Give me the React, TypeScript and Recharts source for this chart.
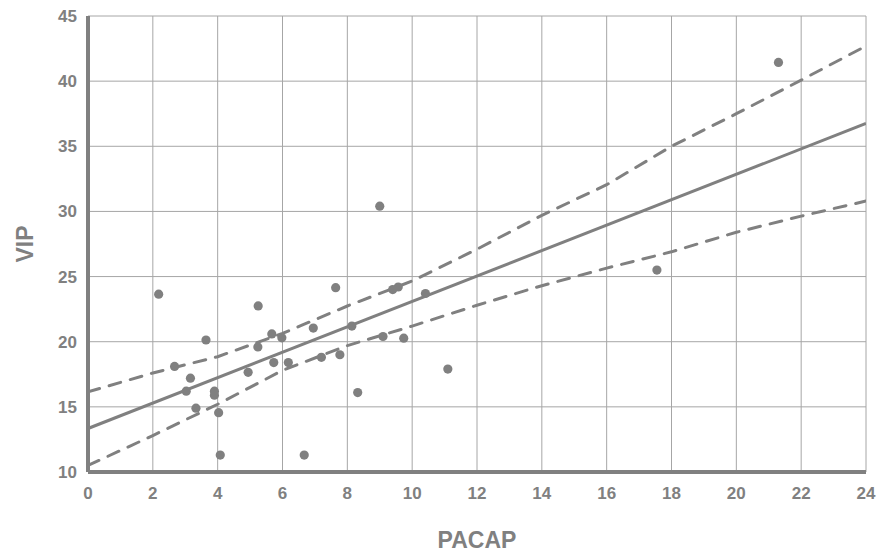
import React from 'react';
import { ScatterChart, Scatter, XAxis, YAxis, CartesianGrid } from 'recharts';

const pacap = [2.18, 5.25, 5.67, 3.64, 5.24, 5.73, 2.67, 3.16, 4.94, 3.03, 3.9, 3.9, 3.33, 4.03, 4.08, 9.0, 7.64, 5.98, 6.95, 8.14, 9.4, 9.57, 10.41, 9.1, 9.74, 6.18, 7.2, 7.77, 8.32, 11.1, 6.67, 21.3, 17.55];
const vip = [23.65, 22.75, 20.6, 20.13, 19.6, 18.4, 18.1, 17.2, 17.65, 16.2, 16.2, 15.9, 14.9, 14.55, 11.3, 30.4, 24.15, 20.3, 21.05, 21.2, 24.0, 24.2, 23.7, 20.4, 20.27, 18.4, 18.8, 19.0, 16.1, 17.9, 11.3, 41.44, 25.5];

const fitX = [0, 24];
const fitY = [13.34, 36.75];

const ciX = [0, 2, 4, 6, 8, 10, 12, 14, 16, 18, 20, 22, 24];
const ciUpper = [16.15, 17.6, 18.85, 20.64, 22.74, 24.66, 27.1, 29.7, 32.05, 35.0, 37.5, 40.08, 42.7];
const ciLower = [10.5, 12.8, 15.2, 17.8, 19.7, 21.2, 22.8, 24.3, 25.65, 26.9, 28.4, 29.64, 30.8];

const xTicks = [0, 2, 4, 6, 8, 10, 12, 14, 16, 18, 20, 22, 24];
const yTicks = [10, 15, 20, 25, 30, 35, 40, 45];

const GRAY = '#808080';
const FONT = '"Liberation Sans", Arial, sans-serif';

const points = pacap.map((x, i) => ({ x, y: vip[i] }));
const fit = fitX.map((x, i) => ({ x, y: fitY[i] }));
const upper = ciX.map((x, i) => ({ x, y: ciUpper[i] }));
const lower = ciX.map((x, i) => ({ x, y: ciLower[i] }));

const Dot = (props: any) => <circle cx={props.cx} cy={props.cy} r={4.6} fill={GRAY} />;
const NoDot = () => null;

const tickStyle = { fill: GRAY, fontSize: 17, fontWeight: 700, fontFamily: FONT };
const dashLine = { stroke: GRAY, strokeWidth: 3, strokeDasharray: '12 10', strokeLinecap: 'round' as const };

export default function App() {
  return (
    <div style={{ position: 'absolute', left: 0, top: 0, background: '#fff' }}>
      <ScatterChart width={882} height={554} margin={{ top: 16, right: 16, left: 0, bottom: 0 }}>
        <CartesianGrid stroke="#a6a6a6" strokeWidth={1} />
        <XAxis
          type="number"
          dataKey="x"
          domain={[0, 24]}
          ticks={xTicks}
          interval={0}
          allowDataOverflow
          height={82}
          axisLine={{ stroke: GRAY, strokeWidth: 4 }}
          tickLine={false}
          tickSize={0}
          tickMargin={15}
          tick={tickStyle}
          label={{
            content: (p: any) => (
              <text
                x={p.viewBox.x + p.viewBox.width / 2}
                y={p.viewBox.y + 76}
                textAnchor="middle"
                fill={GRAY}
                fontSize={23}
                fontWeight={700}
                fontFamily={FONT}
              >
                PACAP
              </text>
            ),
          }}
        />
        <XAxis
          xAxisId="top"
          orientation="top"
          type="number"
          dataKey="x"
          domain={[0, 24]}
          ticks={xTicks}
          height={0}
          mirror
          axisLine={{ stroke: '#000', strokeWidth: 2 }}
          tickLine={{ stroke: '#000', strokeWidth: 2 }}
          tickSize={3}
          tick={false}
        />
        <YAxis
          type="number"
          dataKey="y"
          domain={[10, 45]}
          ticks={yTicks}
          interval={0}
          allowDataOverflow
          width={88}
          axisLine={{ stroke: GRAY, strokeWidth: 4 }}
          tickLine={false}
          tickSize={0}
          tickMargin={11}
          tick={tickStyle}
          label={{
            content: (p: any) => {
              const cx = p.viewBox.x + 25;
              const cy = p.viewBox.y + p.viewBox.height / 2;
              return (
                <text
                  x={cx}
                  y={cy}
                  transform={`rotate(-90 ${cx} ${cy})`}
                  textAnchor="middle"
                  dominantBaseline="central"
                  fill={GRAY}
                  fontSize={23}
                  fontWeight={700}
                  fontFamily={FONT}
                >
                  VIP
                </text>
              );
            },
          }}
        />
        <YAxis
          yAxisId="right"
          orientation="right"
          type="number"
          dataKey="y"
          domain={[10, 45]}
          ticks={yTicks}
          width={0}
          mirror
          axisLine={{ stroke: '#000', strokeWidth: 2 }}
          tickLine={{ stroke: '#000', strokeWidth: 2 }}
          tickSize={3}
          tick={false}
        />
        <Scatter data={upper} shape={NoDot} line={dashLine} isAnimationActive={false} />
        <Scatter data={lower} shape={NoDot} line={dashLine} isAnimationActive={false} />
        <Scatter data={fit} shape={NoDot} line={{ stroke: GRAY, strokeWidth: 3 }} isAnimationActive={false} />
        <Scatter data={points} shape={Dot} isAnimationActive={false} />
      </ScatterChart>
    </div>
  );
}
